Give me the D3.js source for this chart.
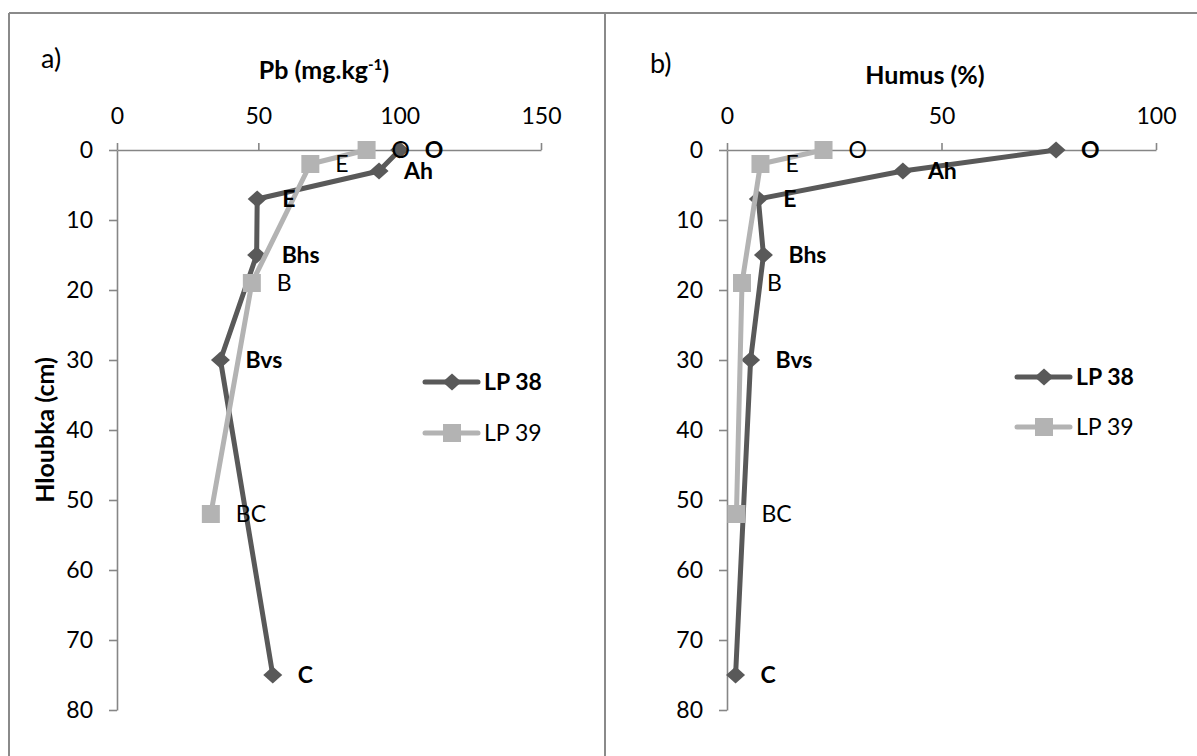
<!DOCTYPE html>
<html>
<head>
<meta charset="utf-8">
<script src="https://cdn.jsdelivr.net/npm/d3@7"></script>
<style>
  html, body { margin: 0; padding: 0; background: #fff; }
  svg { display: block; font-family: Lato, "Open Sans", sans-serif; }
</style>
</head>
<body>
<svg id="chart" width="1197" height="756"></svg>
<script>
// Soil profile data: horizon names and sampling depths (cm)
const horizons38 = ["O", "Ah", "E", "Bhs", "Bvs", "C"];
const depth38 = [0, 3, 7, 15, 30, 75];
const horizons39 = ["O", "E", "B", "BC"];
const depth39 = [0, 2, 19, 52];

// Lead content (mg/kg)
const pb38 = [100, 92.7, 49.6, 49.4, 36.6, 55.1];
const pb39 = [88.3, 68.4, 47.7, 33.2];

// Humus content (%)
const humus38 = [76.7, 41.0, 7.3, 8.5, 5.5, 2.0];
const humus39 = [22.5, 7.8, 3.5, 2.2];

// Axis ticks
const pbTicks = [0, 50, 100, 150];
const humusTicks = [0, 50, 100];
const depthTicks = [0, 10, 20, 30, 40, 50, 60, 70, 80];

const seriesNames = ["LP 38", "LP 39"];

const DARK = "#595959", LIGHT = "#b3b3b3", AXIS = "#868686", FRAME = "#8a8a8a";
const FS = 23;       // regular text size
const FS_TITLE = 25; // axis titles

const svg = d3.select("#chart");

// Outer frame with a divider between the two panels
const frame = svg.append("g").attr("stroke", FRAME).attr("stroke-width", 2).attr("fill", "none");
frame.append("line").attr("x1", 9).attr("x2", 1197).attr("y1", 13).attr("y2", 13);
frame.append("line").attr("x1", 9).attr("x2", 9).attr("y1", 13).attr("y2", 756);
frame.append("line").attr("x1", 605).attr("x2", 605).attr("y1", 13).attr("y2", 756);

function diamondPath(w, h) {
  return `M0,${-h / 2}L${w / 2},0L0,${h / 2}L${-w / 2},0Z`;
}
function squarePath(s) {
  return `M${-s / 2},${-s / 2}h${s}v${s}h${-s}Z`;
}
const markers = [
  { path: diamondPath(19, 17), color: DARK, bold: true },
  { path: squarePath(18), color: LIGHT, bold: false }
];

const panels = [
  {
    letter: "a)", letterX: 41, letterY: 68, yTitle: "Hloubka (cm)",
    title: "Pb (mg.kg", sup: "-1", titleTail: ")", titleX: 324, titleY: 79,
    x0: 117, x1: 541, domain: [0, 150], ticks: pbTicks,
    values: [pb38, pb39],
    legendX: 425, legendY: [382, 433]
  },
  {
    letter: "b)", letterX: 650, letterY: 73, yTitle: "",
    title: "Humus (%)", sup: null, titleTail: "", titleX: 925, titleY: 84,
    x0: 727, x1: 1156, domain: [0, 100], ticks: humusTicks,
    values: [humus38, humus39],
    legendX: 1017, legendY: [377, 427]
  }
];

const y = d3.scaleLinear().domain([0, 80]).range([150, 710]);

panels.forEach(p => {
  const g = svg.append("g");
  const x = d3.scaleLinear().domain(p.domain).range([p.x0, p.x1]);

  // panel letter
  g.append("text").attr("x", p.letterX).attr("y", p.letterY)
    .attr("font-size", 27).attr("fill", "#000").text(p.letter);

  // horizontal axis title
  const t = g.append("text").attr("x", p.titleX).attr("y", p.titleY)
    .attr("text-anchor", "middle").attr("font-size", FS_TITLE).attr("font-weight", "bold").attr("fill", "#000");
  t.append("tspan").text(p.title);
  if (p.sup) {
    t.append("tspan").attr("font-size", 15).attr("dy", -9).text(p.sup);
    t.append("tspan").attr("dy", 9).text(p.titleTail);
  }

  // vertical axis title
  if (p.yTitle) {
    g.append("text")
      .attr("transform", `translate(${p.x0 - 81},${(y.range()[0] + y.range()[1]) / 2}) rotate(-90)`)
      .attr("text-anchor", "middle").attr("dy", "0.7em")
      .attr("font-size", FS_TITLE).attr("font-weight", "bold").attr("fill", "#000")
      .text(p.yTitle);
  }

  // axes
  const xAxis = g.append("g").attr("transform", `translate(0,${y(0)})`)
    .call(d3.axisTop(x).tickValues(p.ticks).tickSize(7).tickSizeOuter(0).tickPadding(19));
  const yAxis = g.append("g").attr("transform", `translate(${p.x0},0)`)
    .call(d3.axisLeft(y).tickValues(depthTicks).tickSize(8).tickSizeOuter(0).tickPadding(16));
  [xAxis, yAxis].forEach(a => {
    a.selectAll("path, line").attr("stroke", AXIS).attr("stroke-width", 1.6);
    a.selectAll("text").attr("font-size", FS).attr("fill", "#000").attr("font-family", "Lato, sans-serif");
  });

  // series: line then markers, LP 38 first, LP 39 on top
  const depths = [depth38, depth39];
  const names = [horizons38, horizons39];
  const line = d3.line().x(d => x(d[0])).y(d => y(d[1]));
  [0, 1].forEach(i => {
    const pts = p.values[i].map((v, k) => [v, depths[i][k]]);
    g.append("path").datum(pts).attr("d", line)
      .attr("fill", "none").attr("stroke", markers[i].color)
      .attr("stroke-width", 5).attr("stroke-linejoin", "round").attr("stroke-linecap", "round");
    g.selectAll(null).data(pts).enter().append("path")
      .attr("d", markers[i].path).attr("fill", markers[i].color)
      .attr("transform", d => `translate(${x(d[0])},${y(d[1])})`);
  });

  // horizon labels right of each point
  [0, 1].forEach(i => {
    const pts = p.values[i].map((v, k) => [v, depths[i][k], names[i][k]]);
    g.selectAll(null).data(pts).enter().append("text")
      .attr("x", d => x(d[0]) + 25).attr("y", d => y(d[1]))
      .attr("dy", "0.36em").attr("font-size", FS)
      .attr("font-weight", markers[i].bold ? "bold" : "normal")
      .attr("fill", "#000").text(d => d[2]);
  });

  // legend
  seriesNames.forEach((name, i) => {
    const ly = p.legendY[i];
    g.append("line").attr("x1", p.legendX).attr("x2", p.legendX + 53)
      .attr("y1", ly).attr("y2", ly).attr("stroke", markers[i].color)
      .attr("stroke-width", 5).attr("stroke-linecap", "round");
    g.append("path").attr("d", markers[i].path).attr("fill", markers[i].color)
      .attr("transform", `translate(${p.legendX + 27},${ly})`);
    g.append("text").attr("x", p.legendX + 59).attr("y", ly).attr("dy", "0.36em")
      .attr("font-size", FS).attr("font-weight", markers[i].bold ? "bold" : "normal")
      .attr("fill", "#000").text(name);
  });
});
</script>
</body>
</html>
